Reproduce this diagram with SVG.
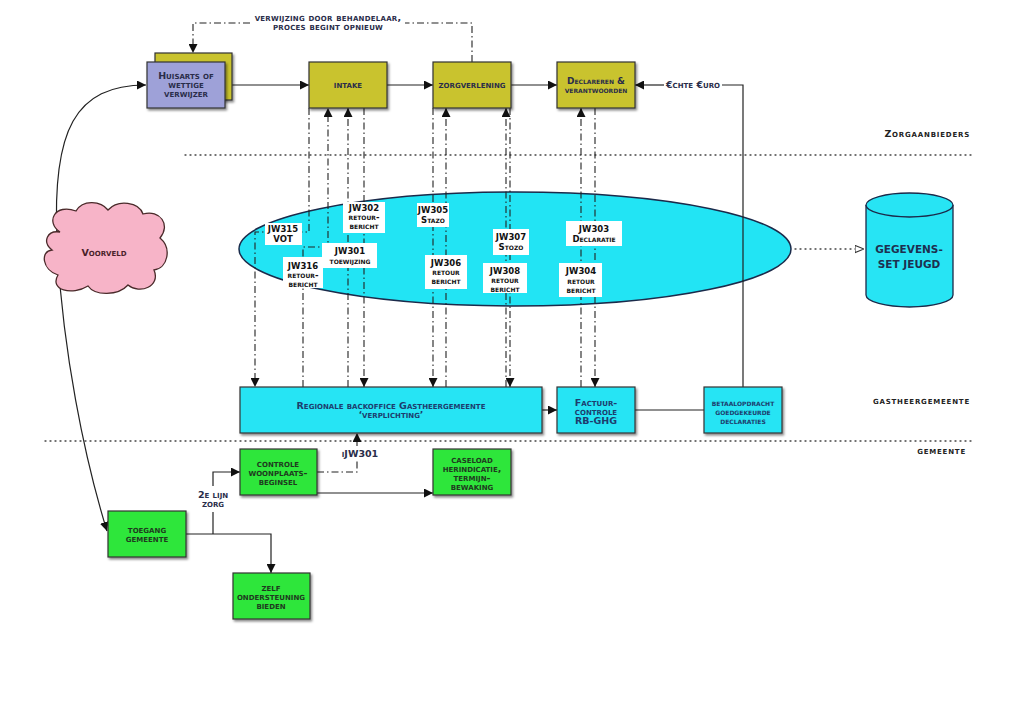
<svg xmlns="http://www.w3.org/2000/svg" width="1024" height="727" viewBox="0 0 1024 727">
<style>
.t{font-family:"DejaVu Sans","Liberation Sans",sans-serif;font-weight:bold;font-variant:small-caps;font-size:9.5px;text-anchor:middle;fill:#2a2d4a}
.tc{fill:#1d3d6e}
.tg{fill:#1f3a1f}
.tw{letter-spacing:0.25px}
.ts{font-size:9px}
.tr{font-size:9.5px;letter-spacing:0.8px;text-anchor:end;fill:#222}
.jw{font-family:"DejaVu Sans","Liberation Sans",sans-serif;font-weight:bold;font-size:8.5px;text-anchor:middle;fill:#111}
.js{font-family:"DejaVu Sans","Liberation Sans",sans-serif;font-weight:bold;font-variant:small-caps;font-size:8.5px;text-anchor:middle;fill:#111}
.box{stroke:#333;stroke-width:1.2}
.y{fill:#c9c32e}
.p{fill:#9ea1d8}
.g{fill:#2fe63a}
.c{fill:#27e4f4}
.lbl{fill:#fff}
.ln{fill:none;stroke:#222;stroke-width:1.2}
.dd{fill:none;stroke:#222;stroke-width:1.1;stroke-dasharray:7 3 1.5 3}
.dot{fill:none;stroke:#444;stroke-width:1.3;stroke-dasharray:1 4;stroke-linecap:round}
</style>
<defs>
<marker id="a" viewBox="0 0 10 10" refX="10" refY="5" markerWidth="9" markerHeight="9" markerUnits="userSpaceOnUse" orient="auto"><path d="M0,0 L10,5 L0,10 Z" fill="#111"/></marker>
<marker id="o" viewBox="0 0 10 10" refX="10" refY="5" markerWidth="9" markerHeight="9" markerUnits="userSpaceOnUse" orient="auto"><path d="M0,1 L10,5 L0,9 Z" fill="#fff" stroke="#333" stroke-width="1.2"/></marker>
<filter id="sh" x="-10%" y="-10%" width="130%" height="130%"><feDropShadow dx="1.5" dy="2" stdDeviation="1.2" flood-color="#000" flood-opacity="0.45"/></filter>
</defs>
<rect width="1024" height="727" fill="#fff"/>

<g id="separators">
<path class="dot" d="M185,155 H972"/>
<path class="dot" d="M45,441 H972"/>
</g>
<g id="lane-labels">
<text class="t tr" x="970" y="137">Zorgaanbieders</text>
<text class="t tr" x="970" y="404">gastheergemeente</text>
<text class="t tr" x="966" y="454">gemeente</text>
</g>

<g id="gegevensruimte">
<ellipse cx="515" cy="249" rx="276" ry="57" fill="#22e4f4" stroke="#1b2a4a" stroke-width="1.5"/>
</g>

<g id="connectors">
<path class="ln" d="M57,240 C52,130 75,85 146,85" marker-end="url(#a)"/>
<path class="ln" d="M57,240 C62,350 85,460 107,531" marker-end="url(#a)"/>
<path class="ln" d="M225,85 H309" marker-end="url(#a)"/>
<path class="ln" d="M387,85 H433" marker-end="url(#a)"/>
<path class="ln" d="M511,85 H557" marker-end="url(#a)"/>
<path class="ln" d="M743,387 V85 H722"/>
<path class="ln" d="M664,85 H635" marker-end="url(#a)"/>
<path class="ln" d="M542,410 H557" marker-end="url(#a)"/>
<path class="ln" d="M635,410 H704"/>
<path class="ln" d="M186,534 H271 V573" marker-end="url(#a)"/>
<path class="ln" d="M213,534 V512"/>
<path class="ln" d="M213,486 V472 H240" marker-end="url(#a)"/>
<path class="ln" d="M317,493 H433" marker-end="url(#a)"/>
<path class="dd" d="M472,62 V23 H405"/>
<path class="dd" d="M250,23 H193 V53" marker-end="url(#a)"/>
<path class="dd" d="M309,108 V232 H255 V387" marker-end="url(#a)"/>
<path class="dd" d="M303,387 V247 H328 V108" marker-end="url(#a)"/>
<path class="dd" d="M348,387 V108" marker-end="url(#a)"/>
<path class="dd" d="M364,108 V387" marker-end="url(#a)"/>
<path class="dd" d="M433,108 V387" marker-end="url(#a)"/>
<path class="dd" d="M446,387 V108" marker-end="url(#a)"/>
<path class="dd" d="M510,108 V387" marker-end="url(#a)"/>
<path class="dd" d="M506,387 V108" marker-end="url(#a)"/>
<path class="dd" d="M595,108 V387" marker-end="url(#a)"/>
<path class="dd" d="M581,387 V108" marker-end="url(#a)"/>
<path class="dd" d="M317,472 H357 V461"/>
<path class="dd" d="M357,446 V433" marker-end="url(#a)"/>
<path class="dot" d="M795,249 H864" marker-end="url(#o)"/>
<text class="t tw" x="328" y="21">verwijzing door behandelaar,</text>
<text class="t tw" x="328" y="30">proces begint opnieuw</text>
<text class="t" x="693" y="88">€chte €uro</text>
<text class="t" x="213" y="498">2e lijn</text>
<text class="t" x="213" y="507">zorg</text>
<text class="t" x="360" y="457">iJW301</text>
</g>

<g id="jw-labels">
<rect class="lbl" x="265" y="223" width="37" height="22"/>
<text class="jw" x="283" y="232">JW315</text><text class="jw" x="283" y="242">VOT</text>
<rect class="lbl" x="343" y="202" width="42" height="31"/>
<text class="jw" x="364" y="211">JW302</text><text class="js" x="364" y="220">retour-</text><text class="js" x="364" y="229">bericht</text>
<rect class="lbl" x="322" y="243" width="55" height="25"/>
<text class="jw" x="350" y="254">JW301</text><text class="js" x="350" y="264">toewijzing</text>
<rect class="lbl" x="283" y="257" width="40" height="31"/>
<text class="jw" x="303" y="269">JW316</text><text class="js" x="303" y="278">retour-</text><text class="js" x="303" y="287">bericht</text>
<rect class="lbl" x="417" y="203" width="32" height="24"/>
<text class="jw" x="433" y="213">JW305</text><text class="js" x="433" y="223">Stazo</text>
<rect class="lbl" x="425" y="255" width="42" height="34"/>
<text class="jw" x="446" y="266">JW306</text><text class="js" x="446" y="275">retour</text><text class="js" x="446" y="284">bericht</text>
<rect class="lbl" x="493" y="229" width="36" height="26"/>
<text class="jw" x="511" y="240">JW307</text><text class="js" x="511" y="250">Stozo</text>
<rect class="lbl" x="483" y="263" width="44" height="30"/>
<text class="jw" x="505" y="274">JW308</text><text class="js" x="505" y="283">retour</text><text class="js" x="505" y="292">bericht</text>
<rect class="lbl" x="566" y="221" width="56" height="25"/>
<text class="jw" x="594" y="232">JW303</text><text class="js" x="594" y="242">Declaratie</text>
<rect class="lbl" x="559" y="263" width="43" height="34"/>
<text class="jw" x="581" y="274">JW304</text><text class="js" x="581" y="284">retour</text><text class="js" x="581" y="293">bericht</text>
</g>

<g id="huisarts">
<rect class="box y" x="155" y="53" width="77" height="47" filter="url(#sh)"/>
<rect class="box p" x="147" y="62" width="78" height="46" filter="url(#sh)"/>
<text class="t" x="186" y="79">Huisarts of</text>
<text class="t" x="186" y="88">wettige</text>
<text class="t" x="186" y="97">verwijzer</text>
</g>
<g id="intake">
<rect class="box y" x="309" y="62" width="78" height="46" filter="url(#sh)"/>
<text class="t" x="348" y="88">intake</text>
</g>
<g id="zorgverlening">
<rect class="box y" x="433" y="62" width="78" height="46" filter="url(#sh)"/>
<text class="t" x="472" y="88">zorgverlening</text>
</g>
<g id="declareren">
<rect class="box y" x="557" y="62" width="78" height="46" filter="url(#sh)"/>
<text class="t ts" x="596" y="84">Declareren &amp;</text>
<text class="t ts" x="596" y="93">verantwoorden</text>
</g>

<g id="voorveld">
<path d="M60,232 C45,222 55,203 76,211 C83,199 101,201 108,210 C118,199 139,202 143,214 C160,209 171,225 160,238 C172,248 168,268 154,270 C161,286 140,295 128,285 C118,296 95,296 88,286 C72,296 49,290 58,275 C42,270 40,251 52,250 C42,242 47,230 60,232 Z" fill="#f7b4c8" stroke="#4a2a2a" stroke-width="1.3"/>
<text class="t" x="104" y="256" style="fill:#4a1f2a">Voorveld</text>
</g>

<g id="gegevensset">
<path d="M866,205 V295 A43.5,12 0 0 0 953,295 V205" fill="#27e4f4" stroke="#1b2a4a" stroke-width="1.3"/>
<ellipse cx="909.5" cy="205" rx="43.5" ry="12" fill="#27e4f4" stroke="#1b2a4a" stroke-width="1.3"/>
<text x="909" y="253" style="font-family:'DejaVu Sans',sans-serif;font-weight:bold;font-size:10.5px;text-anchor:middle;fill:#1d3050">GEGEVENS-</text>
<text x="909" y="268" style="font-family:'DejaVu Sans',sans-serif;font-weight:bold;font-size:10.5px;text-anchor:middle;fill:#1d3050">SET JEUGD</text>
</g>

<g id="backoffice">
<rect class="box c" x="240" y="387" width="302" height="46" filter="url(#sh)"/>
<text class="t tc" x="391" y="409">Regionale backoffice Gastheergemeente</text>
<text class="t tc" x="391" y="418">‘verplichting’</text>
</g>
<g id="factuurcontrole">
<rect class="box c" x="557" y="387" width="78" height="46" filter="url(#sh)"/>
<text class="t tc" x="596" y="406">Factuur-</text>
<text class="t tc" x="596" y="415">controle</text>
<text class="t tc" x="596" y="424">RB-GHG</text>
</g>
<g id="betaalopdracht">
<rect class="box c" x="704" y="387" width="78" height="46" filter="url(#sh)"/>
<text class="t tc ts" x="743" y="406">betaalopdracht</text>
<text class="t tc ts" x="743" y="415">goedgekeurde</text>
<text class="t tc ts" x="743" y="424">declaraties</text>
</g>

<g id="controle">
<rect class="box g" x="240" y="449" width="77" height="46" filter="url(#sh)"/>
<text class="t tg" x="278" y="467">controle</text>
<text class="t tg" x="278" y="476">woonplaats-</text>
<text class="t tg" x="278" y="485">beginsel</text>
</g>
<g id="caseload">
<rect class="box g" x="433" y="449" width="78" height="46" filter="url(#sh)"/>
<text class="t tg" x="472" y="463">caseload</text>
<text class="t tg" x="472" y="472">herindicatie,</text>
<text class="t tg" x="472" y="481">termijn-</text>
<text class="t tg" x="472" y="490">bewaking</text>
</g>
<g id="toegang">
<rect class="box g" x="108" y="511" width="78" height="46" filter="url(#sh)"/>
<text class="t tg" x="147" y="533">toegang</text>
<text class="t tg" x="147" y="542">gemeente</text>
</g>
<g id="zelf">
<rect class="box g" x="233" y="573" width="77" height="46" filter="url(#sh)"/>
<text class="t tg" x="271" y="591">zelf</text>
<text class="t tg" x="271" y="600">ondersteuning</text>
<text class="t tg" x="271" y="609">bieden</text>
</g>
</svg>
